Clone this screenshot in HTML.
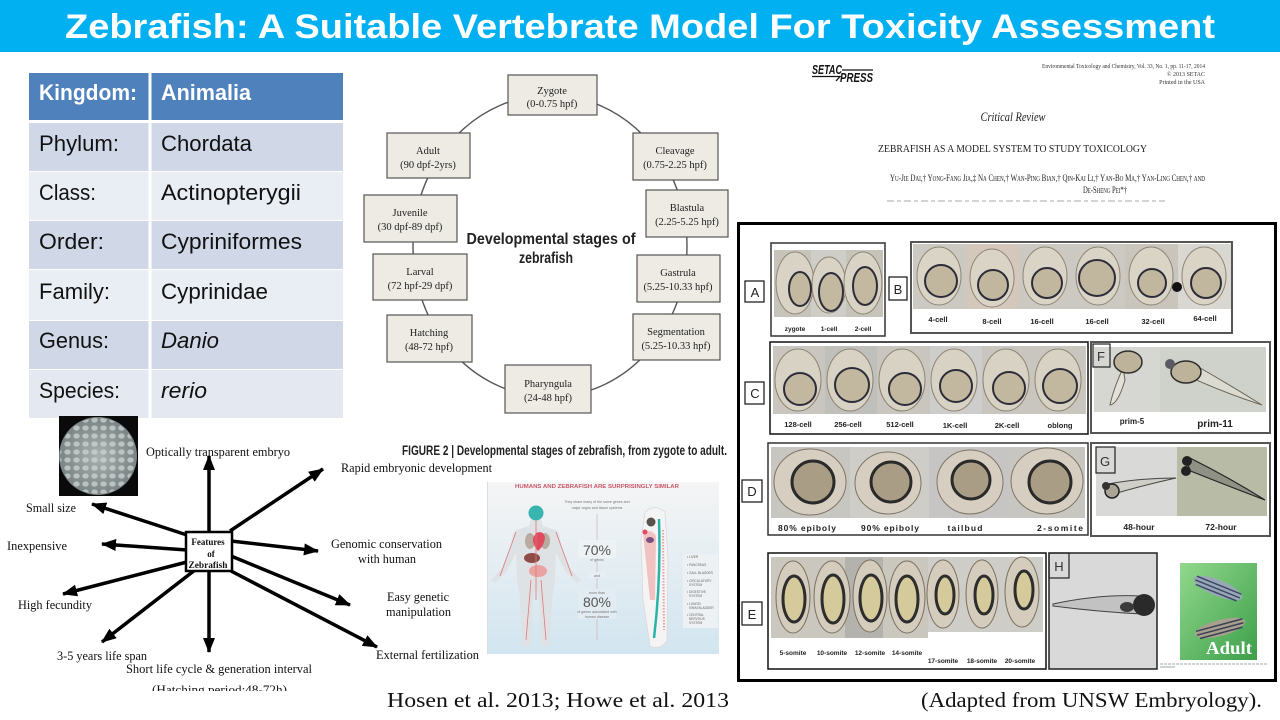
<!DOCTYPE html>
<html><head><meta charset="utf-8"><title>Zebrafish: A Suitable Vertebrate Model For Toxicity Assessment</title>
<style>html,body{margin:0;padding:0;background:#fff;width:1280px;height:720px;overflow:hidden}svg{display:block}</style></head>
<body>
<svg xmlns="http://www.w3.org/2000/svg" width="1280" height="720" viewBox="0 0 1280 720">
<defs>
<marker id="ah" markerUnits="userSpaceOnUse" markerWidth="15" markerHeight="12" viewBox="0 0 15 12" refX="14" refY="6" orient="auto"><path d="M0,0 L15,6 L0,12 Z" fill="#000"/></marker>
<radialGradient id="dish" cx="50%" cy="50%" r="50%"><stop offset="0" stop-color="#a9b1b0"/><stop offset="1" stop-color="#7a8484"/></radialGradient>
<pattern id="bub" width="9" height="8" patternUnits="userSpaceOnUse"><ellipse cx="4.5" cy="4" rx="3.2" ry="2.6" fill="#cdd3d2" opacity=".75"/></pattern>
<linearGradient id="info" x1="0" y1="0" x2="0" y2="1"><stop offset="0" stop-color="#f5f5f5"/><stop offset="1" stop-color="#d2e5f0"/></linearGradient>
<linearGradient id="grn" x1="0" y1="0" x2="1" y2="1"><stop offset="0" stop-color="#92d88c"/><stop offset="1" stop-color="#3c9f4a"/></linearGradient>
<clipPath id="hclip"><rect x="0" y="0" width="1280" height="691"/></clipPath>
</defs>

<!-- Title bar -->
<rect x="0" y="0" width="1280" height="52" fill="#00B0F0"/>
<text x="640" y="38" text-anchor="middle" font-family="Liberation Sans, Arial, sans-serif" font-weight="bold" font-size="34" fill="#fff" textLength="1150" lengthAdjust="spacingAndGlyphs">Zebrafish: A Suitable Vertebrate Model For Toxicity Assessment</text>

<!-- Taxonomy table -->
<rect x="29" y="73" width="314" height="47" fill="#4F81BD"/>
<rect x="29" y="123" width="314" height="48" fill="#D0D8E8"/>
<rect x="29" y="172" width="314" height="48" fill="#E9EDF4"/>
<rect x="29" y="221" width="314" height="48" fill="#D0D8E8"/>
<rect x="29" y="270" width="314" height="50" fill="#E9EDF4"/>
<rect x="29" y="321" width="314" height="48" fill="#D0D8E8"/>
<rect x="29" y="370" width="314" height="48" fill="#E4E9F1"/>
<rect x="148.5" y="73" width="3" height="345" fill="#fff"/>
<g font-family="Liberation Sans, Arial, sans-serif" font-size="22" fill="#111">
<text x="39" y="100" fill="#fff" font-weight="bold" textLength="98" lengthAdjust="spacingAndGlyphs">Kingdom:</text>
<text x="161" y="100" fill="#fff" font-weight="bold" textLength="90" lengthAdjust="spacingAndGlyphs">Animalia</text>
<text x="39" y="151" textLength="80" lengthAdjust="spacingAndGlyphs">Phylum:</text>
<text x="161" y="151" textLength="91" lengthAdjust="spacingAndGlyphs">Chordata</text>
<text x="39" y="200" textLength="57" lengthAdjust="spacingAndGlyphs">Class:</text>
<text x="161" y="200" textLength="140" lengthAdjust="spacingAndGlyphs">Actinopterygii</text>
<text x="39" y="249" textLength="65" lengthAdjust="spacingAndGlyphs">Order:</text>
<text x="161" y="249" textLength="141" lengthAdjust="spacingAndGlyphs">Cypriniformes</text>
<text x="39" y="299" textLength="71" lengthAdjust="spacingAndGlyphs">Family:</text>
<text x="161" y="299" textLength="107" lengthAdjust="spacingAndGlyphs">Cyprinidae</text>
<text x="39" y="348" textLength="70" lengthAdjust="spacingAndGlyphs">Genus:</text>
<text x="161" y="348" font-style="italic" textLength="58" lengthAdjust="spacingAndGlyphs">Danio</text>
<text x="39" y="398" textLength="81" lengthAdjust="spacingAndGlyphs">Species:</text>
<text x="161" y="398" font-style="italic" textLength="46" lengthAdjust="spacingAndGlyphs">rerio</text>
</g>

<!-- Developmental stages circle -->
<ellipse cx="550" cy="246" rx="137" ry="151" fill="none" stroke="#555" stroke-width="1.4"/>
<g fill="#EDEBE4" stroke="#555" stroke-width="1.2">
<rect x="508" y="75" width="89" height="40"/>
<rect x="633" y="133" width="85" height="47"/>
<rect x="646" y="190" width="82" height="47"/>
<rect x="637" y="255" width="83" height="47"/>
<rect x="633" y="314" width="87" height="46"/>
<rect x="505" y="365" width="86" height="48"/>
<rect x="387" y="315" width="85" height="47"/>
<rect x="373" y="254" width="94" height="46"/>
<rect x="364" y="195" width="93" height="47"/>
<rect x="387" y="133" width="83" height="45"/>
</g>
<g font-family="Liberation Serif, Times New Roman, serif" font-size="10.5" fill="#222" text-anchor="middle">
<text x="552" y="94">Zygote</text><text x="552" y="107">(0-0.75 hpf)</text>
<text x="675" y="154">Cleavage</text><text x="675" y="168">(0.75-2.25 hpf)</text>
<text x="687" y="211">Blastula</text><text x="687" y="225">(2.25-5.25 hpf)</text>
<text x="678" y="276">Gastrula</text><text x="678" y="290">(5.25-10.33 hpf)</text>
<text x="676" y="335">Segmentation</text><text x="676" y="349">(5.25-10.33 hpf)</text>
<text x="548" y="387">Pharyngula</text><text x="548" y="401">(24-48 hpf)</text>
<text x="429" y="336">Hatching</text><text x="429" y="350">(48-72 hpf)</text>
<text x="420" y="275">Larval</text><text x="420" y="289">(72 hpf-29 dpf)</text>
<text x="410" y="216">Juvenile</text><text x="410" y="230">(30 dpf-89 dpf)</text>
<text x="428" y="154">Adult</text><text x="428" y="168">(90 dpf-2yrs)</text>
</g>
<g font-family="Liberation Sans, Arial, sans-serif" font-weight="bold" fill="#222" text-anchor="middle">
<text x="551" y="244" font-size="15.5" textLength="169" lengthAdjust="spacingAndGlyphs">Developmental stages of</text>
<text x="546" y="263" font-size="15.5" textLength="54" lengthAdjust="spacingAndGlyphs">zebrafish</text>
</g>
<text x="402" y="455" font-family="Liberation Sans Narrow, Liberation Sans, Arial, sans-serif" font-weight="bold" font-size="13.5" fill="#222" textLength="325" lengthAdjust="spacingAndGlyphs">FIGURE 2 | Developmental stages of zebrafish, from zygote to adult.</text>

<!-- Paper header -->
<g font-family="Liberation Sans, Arial, sans-serif" font-weight="bold" font-style="italic" fill="#111">
<text x="812" y="74" font-size="13" textLength="30" lengthAdjust="spacingAndGlyphs">SETAC</text>
<text x="840" y="82" font-size="13" textLength="33" lengthAdjust="spacingAndGlyphs">PRESS</text>
</g>
<path d="M812,76.5 L840,76.5 L836,81" stroke="#111" stroke-width="1.3" fill="none"/>
<line x1="842" y1="70" x2="873" y2="70" stroke="#111" stroke-width="1.2"/>
<g font-family="Liberation Serif, Times New Roman, serif" fill="#333" font-size="6" text-anchor="end">
<text x="1205" y="68" textLength="163" lengthAdjust="spacingAndGlyphs">Environmental Toxicology and Chemistry, Vol. 33, No. 1, pp. 11-17, 2014</text>
<text x="1205" y="76">© 2013 SETAC</text>
<text x="1205" y="84">Printed in the USA</text>
</g>
<g font-family="Liberation Serif, Times New Roman, serif" fill="#222">
<text x="1013" y="121" font-size="13" font-style="italic" text-anchor="middle" textLength="65" lengthAdjust="spacingAndGlyphs">Critical Review</text>
<text x="878" y="152" font-size="11" textLength="269" lengthAdjust="spacingAndGlyphs">ZEBRAFISH AS A MODEL SYSTEM TO STUDY TOXICOLOGY</text>
<text x="890" y="181" font-size="9.5" font-variant="small-caps" textLength="315" lengthAdjust="spacingAndGlyphs">Yu-Jie Dai,† Yong-Fang Jia,‡ Na Chen,† Wan-Ping Bian,† Qin-Kai Li,† Yan-Bo Ma,† Yan-Ling Chen,† and</text>
<text x="1083" y="193" font-size="9.5" font-variant="small-caps" textLength="44" lengthAdjust="spacingAndGlyphs">De-Sheng Pei*†</text>
</g>
<line x1="887" y1="201" x2="1165" y2="201" stroke="#d4d4d4" stroke-width="2" stroke-dasharray="7 3 4 3"/>

<!-- Features diagram -->
<rect x="59" y="416" width="79" height="80" fill="#0a0a0a"/>
<circle cx="98" cy="456" r="39" fill="url(#dish)"/>
<circle cx="98" cy="456" r="38" fill="url(#bub)"/>
<g stroke="#000" stroke-width="3.5" marker-end="url(#ah)">
<line x1="209" y1="532" x2="209" y2="456"/>
<line x1="230" y1="531" x2="323" y2="469"/>
<line x1="187" y1="535" x2="92" y2="504"/>
<line x1="187" y1="550" x2="102" y2="544"/>
<line x1="187" y1="562" x2="63" y2="594"/>
<line x1="195" y1="570" x2="102" y2="642"/>
<line x1="209" y1="570" x2="209" y2="652"/>
<line x1="231" y1="541" x2="318" y2="551"/>
<line x1="231" y1="556" x2="350" y2="605"/>
<line x1="231" y1="571" x2="377" y2="647"/>
</g>
<rect x="186" y="532" width="46" height="39" fill="#fff" stroke="#000" stroke-width="2.5"/>
<g font-family="Liberation Serif, Times New Roman, serif" font-weight="bold" font-size="9" fill="#111" text-anchor="middle">
<text x="208" y="545">Features</text>
<text x="211" y="557">of</text>
<text x="208" y="568" textLength="39" lengthAdjust="spacingAndGlyphs">Zebrafish</text>
</g>
<g font-family="Liberation Serif, Times New Roman, serif" font-size="12.5" fill="#111">
<text x="146" y="456" textLength="144" lengthAdjust="spacingAndGlyphs">Optically transparent embryo</text>
<text x="341" y="472" textLength="151" lengthAdjust="spacingAndGlyphs">Rapid embryonic development</text>
<text x="26" y="512" textLength="50" lengthAdjust="spacingAndGlyphs">Small size</text>
<text x="7" y="550" textLength="60" lengthAdjust="spacingAndGlyphs">Inexpensive</text>
<text x="331" y="548" textLength="111" lengthAdjust="spacingAndGlyphs">Genomic conservation</text>
<text x="358" y="563" textLength="58" lengthAdjust="spacingAndGlyphs">with human</text>
<text x="387" y="601" textLength="62" lengthAdjust="spacingAndGlyphs">Easy genetic</text>
<text x="386" y="616" textLength="65" lengthAdjust="spacingAndGlyphs">manipulation</text>
<text x="18" y="609" textLength="74" lengthAdjust="spacingAndGlyphs">High fecundity</text>
<text x="57" y="660" textLength="90" lengthAdjust="spacingAndGlyphs">3-5 years life span</text>
<text x="126" y="673" textLength="186" lengthAdjust="spacingAndGlyphs">Short life cycle &amp; generation interval</text>
<text x="152" y="694" textLength="135" lengthAdjust="spacingAndGlyphs" clip-path="url(#hclip)">(Hatching period:48-72h)</text>
<text x="376" y="659" textLength="103" lengthAdjust="spacingAndGlyphs">External fertilization</text>
</g>

<!-- Humans & zebrafish infographic -->
<rect x="487" y="482" width="232" height="172" fill="url(#info)"/>
<line x1="487.5" y1="482" x2="487.5" y2="654" stroke="#ddd" stroke-width="1"/>
<text x="597" y="488" text-anchor="middle" font-family="Liberation Sans, Arial, sans-serif" font-weight="bold" font-size="5" fill="#c9566b" textLength="164" lengthAdjust="spacingAndGlyphs">HUMANS AND ZEBRAFISH ARE SURPRISINGLY SIMILAR</text>
<g font-family="Liberation Sans, Arial, sans-serif" fill="#777" text-anchor="middle" font-size="3.6">
<text x="597" y="503">They share many of the same genes and</text>
<text x="597" y="509">major organ and tissue systems</text>
</g>
<path d="M531,520 L541,520 L543,526 L556,530 Q560,534 561,545 L570,568 L581,580 L577,583 L565,571 L556,553 L555,580 L552,600 L550,646 L541,646 L539,600 L536,586 L533,600 L531,646 L522,646 L520,600 L517,580 L516,553 L507,571 L495,583 L491,580 L502,568 L511,545 Q512,534 516,530 L529,526 Z" fill="#dfe2e5"/>
<circle cx="536" cy="513" r="7.5" fill="#38b5ae"/>
<ellipse cx="530" cy="541" rx="5" ry="8" fill="#b9aaa2"/>
<ellipse cx="545" cy="541" rx="5" ry="8" fill="#b9aaa2"/>
<path d="M536,533 Q544,530 545,538 Q544,546 538,551 Q532,544 533,538 Z" fill="#e04b5f"/>
<ellipse cx="532" cy="558" rx="8" ry="5" fill="#8e4c48"/>
<ellipse cx="538" cy="571" rx="9" ry="6" fill="#eaa3a3"/>
<g stroke="#e27676" stroke-width="0.8" fill="none">
<path d="M536,520 L536,600 M531,580 L526,640 M541,580 L546,640 M516,532 L500,576 M556,532 L572,576"/>
</g>
<line x1="597" y1="514" x2="597" y2="640" stroke="#d7b7bf" stroke-width="0.8"/>
<g font-family="Liberation Sans, Arial, sans-serif" fill="#555" text-anchor="middle">
<rect x="578" y="540" width="38" height="18" fill="#eef2f5"/>
<text x="597" y="555" font-size="14">70%</text>
<text x="597" y="561" font-size="3.6" fill="#777">of genes</text>
<rect x="588" y="572" width="18" height="6" fill="#e8eff4"/>
<text x="597" y="577" font-size="3.6" fill="#777">and</text>
<rect x="578" y="589" width="38" height="30" fill="#e3ecf2"/>
<text x="597" y="594" font-size="3.6" fill="#777">more than</text>
<text x="597" y="607" font-size="14">80%</text>
<text x="597" y="613" font-size="3.6" fill="#777">of genes associated with</text>
<text x="597" y="618" font-size="3.6" fill="#777">human disease</text>
</g>
<path d="M645,512 Q655,503 665,512 L668,560 L667,641 Q659,651 650,646 L643,600 L641,540 Z" fill="#f4f4f4" stroke="#d9d9d9" stroke-width="0.8"/>
<path d="M643,533 Q652,528 656,536 L655,600 L650,600 Z" fill="#f1c2c2"/>
<circle cx="651" cy="522" r="4.5" fill="#5a524c"/>
<circle cx="645" cy="532" r="2.5" fill="#e04b5f"/>
<ellipse cx="650" cy="540" rx="4" ry="3" fill="#7a5080"/>
<path d="M659,519 Q661,580 654,638" stroke="#2bb3a8" stroke-width="2.5" fill="none"/>
<path d="M663,530 L664,630" stroke="#e8a0a8" stroke-width="2" stroke-dasharray="1.5 1.5" fill="none"/>
<rect x="683" y="554" width="35" height="74" fill="#eef1f3"/>
<g font-family="Liberation Sans, Arial, sans-serif" font-size="3.2" fill="#666">
<text x="687" y="558">• LIVER</text>
<text x="687" y="566">• PANCREAS</text>
<text x="687" y="574">• GALL BLADDER</text>
<text x="687" y="582">• CIRCULATORY</text><text x="689" y="586">SYSTEM</text>
<text x="687" y="593">• DIGESTIVE</text><text x="689" y="597">SYSTEM</text>
<text x="687" y="605">• LUNGS/</text><text x="689" y="609">SWIM BLADDER</text>
<text x="687" y="616">• CENTRAL</text><text x="689" y="620">NERVOUS</text><text x="689" y="624">SYSTEM</text>
</g>

<!-- Citations -->
<text x="387" y="707" font-family="Liberation Serif, Times New Roman, serif" font-size="21" fill="#111" textLength="342" lengthAdjust="spacingAndGlyphs">Hosen et al. 2013; Howe et al. 2013</text>
<text x="921" y="707" font-family="Liberation Serif, Times New Roman, serif" font-size="21" fill="#111" textLength="341" lengthAdjust="spacingAndGlyphs">(Adapted from UNSW Embryology).</text>

<!-- Embryo panel -->
<rect x="738.5" y="223.5" width="537" height="457" fill="#fff" stroke="#000" stroke-width="3"/>

<!-- Panel A -->
<rect x="771" y="243" width="114" height="93" fill="#fff" stroke="#333" stroke-width="1.5"/>
<rect x="774" y="250" width="109" height="67" fill="#c6c3bb"/>
<rect x="811" y="250" width="35" height="67" fill="#cfcdc7"/>
<g stroke="#8d8474" fill="#d9d3c6">
<ellipse cx="795" cy="283" rx="19" ry="31"/><ellipse cx="829" cy="285" rx="17" ry="28"/><ellipse cx="863" cy="283" rx="19" ry="31"/>
</g>
<g stroke="#2d2d3a" stroke-width="2" fill="#c3b9a0">
<ellipse cx="800" cy="289" rx="11" ry="17"/><ellipse cx="831" cy="292" rx="12" ry="19"/><ellipse cx="865" cy="286" rx="12" ry="19"/>
</g>
<g font-family="Liberation Sans Narrow, Liberation Sans, Arial, sans-serif" font-size="6.5" font-weight="bold" fill="#222" text-anchor="middle">
<text x="795" y="331">zygote</text><text x="829" y="331">1-cell</text><text x="863" y="331">2-cell</text>
</g>

<!-- Panel B -->
<rect x="911" y="242" width="321" height="91" fill="#fff" stroke="#555" stroke-width="2"/>
<rect x="913" y="244" width="318" height="65" fill="#ccc9c2"/>
<rect x="966" y="244" width="53" height="65" fill="#d4c8bd"/>
<rect x="1125" y="244" width="53" height="65" fill="#c9c5bd"/>
<rect x="1178" y="244" width="53" height="65" fill="#d9d7d2"/>
<g stroke="#8d8474" fill="#dad4c7">
<ellipse cx="939" cy="276" rx="22" ry="29"/><ellipse cx="992" cy="278" rx="22" ry="29"/><ellipse cx="1045" cy="276" rx="22" ry="29"/><ellipse cx="1098" cy="276" rx="22" ry="29"/><ellipse cx="1151" cy="276" rx="22" ry="29"/><ellipse cx="1204" cy="276" rx="22" ry="29"/>
</g>
<g stroke="#2d2d3a" stroke-width="2" fill="#c1b79f">
<circle cx="941" cy="281" r="16"/><circle cx="993" cy="285" r="15"/><circle cx="1047" cy="283" r="15"/><circle cx="1097" cy="278" r="18"/><circle cx="1152" cy="283" r="14"/><circle cx="1206" cy="283" r="15"/>
</g>
<circle cx="1177" cy="287" r="5" fill="#111"/>
<g font-family="Liberation Sans Narrow, Liberation Sans, Arial, sans-serif" font-size="7.5" font-weight="bold" fill="#222" text-anchor="middle">
<text x="938" y="322">4-cell</text><text x="992" y="324">8-cell</text><text x="1042" y="324">16-cell</text><text x="1097" y="324">16-cell</text><text x="1153" y="324">32-cell</text><text x="1205" y="321">64-cell</text>
</g>

<!-- Panel C -->
<rect x="770" y="342" width="318" height="92" fill="#fff" stroke="#111" stroke-width="1.5"/>
<rect x="773" y="346" width="313" height="68" fill="#c9c6bf"/>
<rect x="825" y="346" width="52" height="68" fill="#bfc0bc"/>
<rect x="930" y="346" width="52" height="68" fill="#cdcdcb"/>
<g stroke="#8d8474" fill="#d8d2c4">
<ellipse cx="798" cy="380" rx="23" ry="31"/><ellipse cx="850" cy="380" rx="23" ry="31"/><ellipse cx="902" cy="380" rx="23" ry="31"/><ellipse cx="954" cy="380" rx="23" ry="31"/><ellipse cx="1006" cy="380" rx="23" ry="31"/><ellipse cx="1058" cy="380" rx="23" ry="31"/>
</g>
<g stroke="#2d2d3a" stroke-width="2" fill="#c2b89f">
<circle cx="800" cy="389" r="16"/><circle cx="852" cy="385" r="17"/><circle cx="905" cy="389" r="16"/><circle cx="956" cy="386" r="16"/><circle cx="1009" cy="388" r="16"/><circle cx="1060" cy="386" r="17"/>
</g>
<g font-family="Liberation Sans Narrow, Liberation Sans, Arial, sans-serif" font-size="7.5" font-weight="bold" fill="#222" text-anchor="middle">
<text x="798" y="427">128-cell</text><text x="848" y="427">256-cell</text><text x="900" y="427">512-cell</text><text x="955" y="428">1K-cell</text><text x="1007" y="428">2K-cell</text><text x="1060" y="428">oblong</text>
</g>

<!-- Panel F -->
<rect x="1091" y="342" width="179" height="91" fill="#fff" stroke="#555" stroke-width="2"/>
<rect x="1094" y="347" width="172" height="65" fill="#d6d7d2"/>
<rect x="1160" y="347" width="106" height="65" fill="#cfd1cb"/>
<path d="M1123,368 Q1113,390 1110,405 Q1118,404 1125,380 Z" fill="#e2e0d8" stroke="#6b6658" stroke-width="1"/>
<ellipse cx="1128" cy="362" rx="14" ry="11" fill="#bcb39a" stroke="#2d2d2d" stroke-width="1.5"/>
<path d="M1195,365 Q1230,385 1262,405 Q1225,393 1192,378 Z" fill="#dcdbd2" stroke="#6b6658" stroke-width="1"/>
<ellipse cx="1186" cy="372" rx="15" ry="11" fill="#bcb39a" stroke="#2d2d2d" stroke-width="1.5"/>
<ellipse cx="1170" cy="364" rx="5" ry="5" fill="#5a5a64"/>
<rect x="1093" y="344" width="17" height="23" fill="none" stroke="#222" stroke-width="1.2"/>
<text x="1101" y="361" text-anchor="middle" font-family="Liberation Sans, Arial, sans-serif" font-size="13" fill="#333">F</text>
<g font-family="Liberation Sans, Arial, sans-serif" font-weight="bold" fill="#222" text-anchor="middle">
<text x="1132" y="424" font-size="8">prim-5</text><text x="1215" y="427" font-size="10">prim-11</text>
</g>

<!-- Panel D -->
<rect x="768" y="443" width="320" height="92" fill="#fff" stroke="#333" stroke-width="1.5"/>
<rect x="771" y="447" width="314" height="71" fill="#c8c6c0"/>
<rect x="850" y="447" width="79" height="71" fill="#cfcdc8"/>
<rect x="929" y="447" width="79" height="71" fill="#c6c5c4"/>
<g stroke="#7d7466" fill="#d6cfc1">
<ellipse cx="810" cy="482" rx="36" ry="33"/><ellipse cx="888" cy="483" rx="33" ry="31"/><ellipse cx="970" cy="482" rx="33" ry="32"/><ellipse cx="1047" cy="481" rx="36" ry="33"/>
</g>
<g stroke="#2a2a2a" stroke-width="3" fill="#a99d86">
<circle cx="813" cy="482" r="21"/><circle cx="891" cy="482" r="20"/><circle cx="971" cy="480" r="19"/><circle cx="1050" cy="482" r="21"/>
</g>
<g font-family="Liberation Sans, Arial, sans-serif" font-weight="bold" font-size="8.5" fill="#222" text-anchor="middle">
<text x="807" y="531" textLength="58" lengthAdjust="spacing">80% epiboly</text>
<text x="890" y="531" textLength="58" lengthAdjust="spacing">90% epiboly</text>
<text x="965" y="531" textLength="35" lengthAdjust="spacing">tailbud</text>
<text x="1060" y="531" textLength="46" lengthAdjust="spacing">2-somite</text>
</g>

<!-- Panel G -->
<rect x="1091" y="443" width="179" height="93" fill="#fff" stroke="#555" stroke-width="2"/>
<rect x="1096" y="447" width="81" height="69" fill="#d9d9d7"/>
<rect x="1177" y="447" width="90" height="69" fill="#b8bca7"/>
<path d="M1108,484 Q1140,478 1176,478 Q1140,486 1110,495 Z" fill="#cfcfc8" stroke="#444" stroke-width="1"/>
<circle cx="1112" cy="491" r="7" fill="#a9a496" stroke="#222" stroke-width="1.5"/>
<circle cx="1106" cy="486" r="4" fill="#333"/>
<path d="M1190,458 Q1230,478 1265,500 Q1228,486 1188,470 Z" fill="#8e9184" stroke="#222" stroke-width="1.2"/>
<circle cx="1187" cy="461" r="5" fill="#222"/><circle cx="1186" cy="471" r="5" fill="#222"/>
<rect x="1096" y="447" width="19" height="26" fill="none" stroke="#222" stroke-width="1.2"/>
<text x="1105" y="466" text-anchor="middle" font-family="Liberation Sans, Arial, sans-serif" font-size="13" fill="#333">G</text>
<g font-family="Liberation Sans Narrow, Liberation Sans, Arial, sans-serif" font-weight="bold" font-size="8.5" fill="#222" text-anchor="middle">
<text x="1139" y="530">48-hour</text><text x="1221" y="530">72-hour</text>
</g>

<!-- Panel E -->
<rect x="768" y="553" width="278" height="116" fill="#fff" stroke="#111" stroke-width="1.5"/>
<rect x="771" y="557" width="157" height="81" fill="#cac7bf"/>
<rect x="845" y="557" width="38" height="81" fill="#b4b2ac"/>
<rect x="928" y="557" width="115" height="75" fill="#cfcdc7"/>
<g stroke="#7a7060" fill="#d4ccbc">
<ellipse cx="793" cy="597" rx="17" ry="36"/><ellipse cx="832" cy="597" rx="18" ry="36"/><ellipse cx="870" cy="596" rx="17" ry="36"/><ellipse cx="907" cy="597" rx="18" ry="36"/><ellipse cx="943" cy="594" rx="16" ry="34"/><ellipse cx="982" cy="594" rx="16" ry="34"/><ellipse cx="1022" cy="592" rx="17" ry="35"/>
</g>
<g stroke="#2d2d2d" stroke-width="3" fill="#d5ca9b">
<ellipse cx="794" cy="599" rx="11" ry="23"/><ellipse cx="833" cy="599" rx="11" ry="24"/><ellipse cx="871" cy="598" rx="11" ry="23"/><ellipse cx="907" cy="599" rx="11" ry="23"/><ellipse cx="945" cy="595" rx="9" ry="19"/><ellipse cx="984" cy="595" rx="9" ry="19"/><ellipse cx="1024" cy="590" rx="9" ry="19"/>
</g>
<g font-family="Liberation Sans Narrow, Liberation Sans, Arial, sans-serif" font-size="6.5" font-weight="bold" fill="#222" text-anchor="middle">
<text x="793" y="655">5-somite</text><text x="832" y="655">10-somite</text><text x="870" y="655">12-somite</text><text x="907" y="655">14-somite</text>
<text x="943" y="663">17-somite</text><text x="982" y="663">18-somite</text><text x="1020" y="663">20-somite</text>
</g>

<!-- Panel H -->
<rect x="1049" y="553" width="108" height="116" fill="#d9d9d9" stroke="#222" stroke-width="1.5"/>
<path d="M1053,604 Q1100,594 1140,596 L1142,614 Q1100,612 1053,606 Z" fill="#c2c2c2" stroke="#444" stroke-width="1"/>
<ellipse cx="1144" cy="605" rx="11" ry="11" fill="#2a2a2a"/>
<ellipse cx="1127" cy="607" rx="7" ry="5" fill="#3a3a3a"/>
<rect x="1049" y="553" width="20" height="25" fill="none" stroke="#222" stroke-width="1.2"/>
<text x="1059" y="571" text-anchor="middle" font-family="Liberation Sans, Arial, sans-serif" font-size="13" fill="#333">H</text>

<!-- Adult -->
<rect x="1180" y="563" width="77" height="97" fill="url(#grn)"/>
<g transform="rotate(22 1218 588)">
<ellipse cx="1218" cy="588" rx="26" ry="8" fill="#9aa7b4"/>
<path d="M1194,585 L1242,585 M1194,589 L1242,589 M1196,593 L1240,593" stroke="#3b4a6a" stroke-width="1.5"/>
</g>
<g transform="rotate(-15 1220 628)">
<ellipse cx="1220" cy="628" rx="26" ry="8" fill="#a7a08f"/>
<path d="M1196,625 L1244,625 M1196,629 L1244,629 M1198,633 L1242,633" stroke="#3b3f52" stroke-width="1.5"/>
</g>
<text x="1229" y="654" text-anchor="middle" font-family="Liberation Serif, Times New Roman, serif" font-weight="bold" font-size="18" fill="#fff" textLength="46" lengthAdjust="spacingAndGlyphs">Adult</text>
<line x1="1160" y1="664" x2="1268" y2="664" stroke="#9aa" stroke-width="1" stroke-dasharray="3 1"/>
<line x1="1160" y1="667" x2="1175" y2="667" stroke="#9aa" stroke-width="1"/>

<!-- Label boxes A-E -->
<g fill="#fff" stroke="#111" stroke-width="1.2">
<rect x="745" y="281" width="19" height="21"/>
<rect x="889" y="277" width="18" height="23"/>
<rect x="745" y="382" width="19" height="22"/>
<rect x="742" y="480" width="20" height="22"/>
<rect x="742" y="602" width="20" height="23"/>
</g>
<g font-family="Liberation Sans, Arial, sans-serif" font-size="13" fill="#222" text-anchor="middle">
<text x="755" y="297">A</text><text x="898" y="294">B</text><text x="755" y="398">C</text><text x="752" y="496">D</text><text x="752" y="619">E</text>
</g>
</svg>
</body></html>
